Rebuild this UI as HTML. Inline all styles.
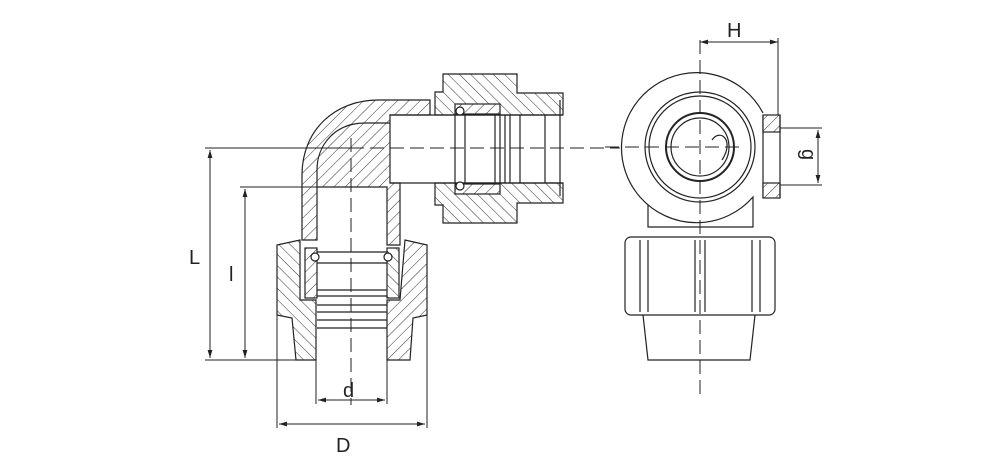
<!DOCTYPE html>
<html><head><meta charset="utf-8"><style>
html,body{margin:0;padding:0;background:#fff;}
svg{display:block;}
text{font-family:"Liberation Sans",sans-serif;font-size:20px;fill:#222;}
</style></head><body>
<svg width="1000" height="475" viewBox="0 0 1000 475" xmlns="http://www.w3.org/2000/svg">
<defs>
<pattern id="h" width="8" height="8" patternUnits="userSpaceOnUse" patternTransform="rotate(45)">
<rect width="8" height="8" fill="#fff"/><line x1="0" y1="0" x2="0" y2="8" stroke="#333" stroke-width="1"/></pattern>
<pattern id="h2" width="8" height="8" patternUnits="userSpaceOnUse" patternTransform="rotate(-45)">
<rect width="8" height="8" fill="#fff"/><line x1="0" y1="0" x2="0" y2="8" stroke="#333" stroke-width="1"/></pattern>
<marker id="a" viewBox="0 0 10 10" refX="10" refY="5" markerWidth="8" markerHeight="8" orient="auto-start-reverse"><path d="M0,2 L10,5 L0,8z" fill="#222"/></marker>
</defs>
<g stroke="#222" stroke-width="1.2" fill="none">
<!-- elbow body -->
<path d="M302,240 L302,175 C302,130 335,100 378,100 L430,100 L430,115 L390,115 L390,183 L400,183 L400,245 L387,245 L387,187 L317,187 L317,240 Z" fill="url(#h)"/>
<path d="M317,187 L317,170 C317,145 335,123 365,123 L390,123" />
<!-- right nut -->
<path d="M443,74 L517,74 L517,93 L563,93 L563,115 L520,115 L435,115 L435,92 L443,92 Z" fill="url(#h2)"/>
<path d="M435,183 L563,183 L563,203 L517,203 L517,223 L443,223 L443,205 L435,205 Z" fill="url(#h2)"/>
<rect x="455" y="104" width="45" height="10" fill="url(#h)"/>
<rect x="455" y="184" width="45" height="10" fill="url(#h)"/>
<path d="M390,115 L563,115 M390,183 L563,183 M455,115 V183 M465,115 V183 M495,115 V183 M500,115 V183 M505,115 V183 M510,115 V183 M520,115 V183 M545,115 V183 M560,100 V196"/>
<circle cx="460" cy="111" r="4" fill="#fff"/><circle cx="460" cy="186" r="4" fill="#fff"/>
<!-- bottom nut -->
<path d="M277,245 L300,240 L300,300 L316,300 L316,360 L296,360 L292,318 L277,315 Z" fill="url(#h2)"/>
<path d="M427,245 L405,240 L400,300 L387,300 L387,360 L410,360 L413,318 L427,315 Z" fill="url(#h)"/>
<rect x="305" y="248" width="12" height="50" fill="url(#h)"/>
<rect x="387" y="248" width="12" height="50" fill="url(#h2)"/>
<path d="M317,252 H387 M317,263 H387 M317,290 H387 M317,296 H387 M317,305 H387 M317,312 H387 M317,320 H387 M317,328 H387"/>
<circle cx="315" cy="257" r="4" fill="#fff"/><circle cx="388" cy="257" r="4" fill="#fff"/>
</g>
<!-- centerlines -->
<g stroke="#222" stroke-width="1" fill="none" stroke-dasharray="14,6">
<line x1="351" y1="138" x2="351" y2="405"/>
<line x1="350" y1="148" x2="620" y2="148"/>
<line x1="700" y1="40" x2="700" y2="395"/>
<line x1="605" y1="147" x2="745" y2="147"/>
</g>
<g stroke="#222" stroke-width="1" fill="none">
<line x1="205" y1="148" x2="350" y2="148"/>
<line x1="240" y1="187" x2="317" y2="187"/>
<line x1="205" y1="360" x2="316" y2="360"/>
<line x1="210" y1="150" x2="210" y2="358" marker-start="url(#a)" marker-end="url(#a)"/>
<line x1="245" y1="189" x2="245" y2="358" marker-start="url(#a)" marker-end="url(#a)"/>
<line x1="277" y1="315" x2="277" y2="428"/><line x1="427" y1="315" x2="427" y2="428"/>
<line x1="279" y1="424" x2="425" y2="424" marker-start="url(#a)" marker-end="url(#a)"/>
<line x1="316" y1="360" x2="316" y2="404"/><line x1="387" y1="360" x2="387" y2="404"/>
<line x1="318" y1="400" x2="385" y2="400" marker-start="url(#a)" marker-end="url(#a)"/>
<!-- right view -->
<g stroke-width="1.2">
<path d="M763,113 A75,75 0 1 0 753,197 L753,227 L648,227 L648,205"/>
<circle cx="700" cy="147" r="55"/><circle cx="700" cy="147" r="51"/>
<circle cx="700" cy="147" r="34" stroke-width="2"/><circle cx="700" cy="147" r="29"/>
<path d="M712,140 C720,128 735,140 722,160"/>
<path d="M763,115 L763,198"/>
<rect x="763" y="115" width="17" height="17" fill="url(#h)"/>
<rect x="763" y="183" width="17" height="15" fill="url(#h)"/>
<line x1="780" y1="115" x2="780" y2="198"/>
<rect x="625" y="237" width="150" height="78" rx="6"/>
<path d="M640,240 V312 M648,240 V312 M695,240 V312 M705,240 V312 M752,240 V312 M760,240 V312"/>
<path d="M643,315 L648,360 L750,360 L755,315"/>
</g>
<line x1="700" y1="42" x2="778" y2="42" marker-start="url(#a)" marker-end="url(#a)"/>
<line x1="778" y1="38" x2="778" y2="115"/>
<line x1="780" y1="128" x2="822" y2="128"/><line x1="780" y1="185" x2="822" y2="185"/>
<line x1="818" y1="130" x2="818" y2="183" marker-start="url(#a)" marker-end="url(#a)"/>
</g>
<text x="727" y="37">H</text>
<text transform="translate(802,149) rotate(90)">g</text>
<text x="189" y="264">L</text>
<text x="229" y="281">l</text>
<text x="343" y="397">d</text>
<text x="336" y="452">D</text>
</svg>
</body></html>
